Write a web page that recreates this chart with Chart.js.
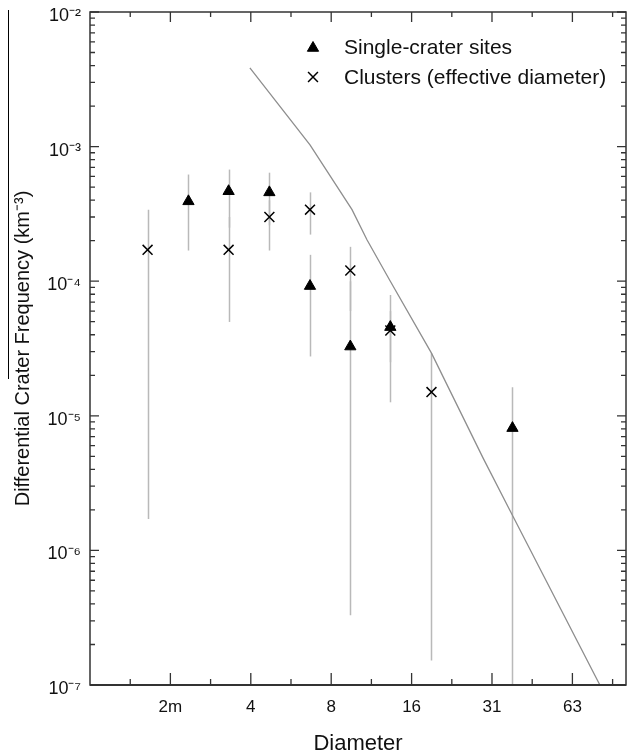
<!DOCTYPE html>
<html>
<head>
<meta charset="utf-8">
<script src="https://cdn.jsdelivr.net/npm/chart.js@4.4.1/dist/chart.umd.min.js"></script>
<style>
  html, body { margin: 0; padding: 0; background: #fff; }
  #wrap { width: 627px; height: 755px; }
</style>
</head>
<body>
<div id="wrap"><canvas id="myChart" width="627" height="755"></canvas></div>
<script>
// single-crater sites (triangles)
var singleDiam = [2.33, 3.29, 4.67, 6.62, 9.36, 13.2, 37.7];
var singleFreq = [3.92e-4, 4.66e-4, 4.57e-4, 9.2e-5, 3.27e-5, 4.56e-5, 8.1e-6];
var singleHigh = [6.2e-4, 6.75e-4, 6.4e-4, 1.57e-4, 1.0e-4, 7.9e-5, 1.63e-5];
var singleLow  = [1.69e-4, 2.5e-4, 2.6e-4, 2.76e-5, 3.3e-7, 2.5e-5, 5e-8];

// clusters, effective diameter (crosses)
var clusterDiam = [1.64, 3.29, 4.67, 6.62, 9.36, 13.2, 18.8];
var clusterFreq = [1.71e-4, 1.71e-4, 3.0e-4, 3.4e-4, 1.2e-4, 4.3e-5, 1.5e-5];
var clusterHigh = [3.4e-4, 3.0e-4, 4.0e-4, 4.57e-4, 1.8e-4, 6e-5, 2.92e-5];
var clusterLow  = [1.71e-6, 4.98e-5, 1.69e-4, 2.22e-4, 6e-5, 1.26e-5, 1.52e-7];

// grey production curve
var modelDiam = [3.95, 6.62, 9.5, 10.8, 13.2, 18.8, 29.3, 37.6, 79.9];
var modelFreq = [3.85e-3, 1.03e-3, 3.4e-4, 2.03e-4, 1.0e-4, 2.92e-5, 4.85e-6, 1.84e-6, 1.0e-7];

// axes
var xTicks = [1.995, 3.981, 7.943, 15.85, 31.62, 63.10];
var xTickLabels = ['2m', '4', '8', '16', '31', '63'];
var xMinorTicks = [1.413, 2.818, 5.623, 11.22, 22.39, 44.67, 89.13];
var yTicks = [1e-7, 1e-6, 1e-5, 1e-4, 1e-3, 1e-2];
var yTickLabels = ['10\u207B\u2077', '10\u207B\u2076', '10\u207B\u2075', '10\u207B\u2074', '10\u207B\u00B3', '10\u207B\u00B2'];
var yMinorMult = [2, 3, 4, 5, 6, 7, 8, 9];

var legendLabels = ['Single-crater sites', 'Clusters (effective diameter)'];

function pts(xs, ys) {
  return xs.map(function (x, i) { return {x: x, y: ys[i]}; });
}

var FONT = '"Liberation Sans", Arial, Helvetica, sans-serif';

var errorBars = {
  id: 'errorBars',
  beforeDatasetsDraw: function (chart) {
    var ctx = chart.ctx, a = chart.chartArea;
    var xs = chart.scales.x, ys = chart.scales.y;
    ctx.save();
    ctx.beginPath();
    ctx.rect(a.left, a.top, a.right - a.left, a.bottom - a.top);
    ctx.clip();
    ctx.strokeStyle = '#b9b9b9';
    ctx.lineWidth = 1.5;
    function bars(d, lo, hi) {
      for (var i = 0; i < d.length; i++) {
        var px = Math.round(xs.getPixelForValue(d[i])) + 0.5;
        ctx.beginPath();
        ctx.moveTo(px, ys.getPixelForValue(hi[i]));
        ctx.lineTo(px, ys.getPixelForValue(lo[i]));
        ctx.stroke();
      }
    }
    bars(singleDiam, singleLow, singleHigh);
    bars(clusterDiam, clusterLow, clusterHigh);
    ctx.restore();
  }
};

var frame = {
  id: 'frame',
  afterDraw: function (chart) {
    var ctx = chart.ctx, a = chart.chartArea;
    var xs = chart.scales.x, ys = chart.scales.y;
    ctx.save();
    ctx.strokeStyle = '#333';
    ctx.lineWidth = 1.5;
    ctx.strokeRect(a.left, a.top, a.right - a.left, a.bottom - a.top);
    ctx.lineWidth = 2.2;
    ctx.beginPath();
    ctx.moveTo(a.left, a.bottom); ctx.lineTo(a.right, a.bottom);
    ctx.stroke();

    ctx.lineWidth = 1.3;
    ctx.beginPath();
    // y ticks, both sides, pointing in
    yTicks.forEach(function (v) {
      var py = ys.getPixelForValue(v);
      ctx.moveTo(a.left, py); ctx.lineTo(a.left + 9, py);
      ctx.moveTo(a.right, py); ctx.lineTo(a.right - 9, py);
      if (v < 1e-2) {
        yMinorMult.forEach(function (m) {
          var q = ys.getPixelForValue(v * m);
          ctx.moveTo(a.left, q); ctx.lineTo(a.left + 5, q);
          ctx.moveTo(a.right, q); ctx.lineTo(a.right - 5, q);
        });
      }
    });
    // x ticks, top and bottom
    xTicks.forEach(function (v) {
      var px = xs.getPixelForValue(v);
      ctx.moveTo(px, a.bottom); ctx.lineTo(px, a.bottom - 12);
      ctx.moveTo(px, a.top); ctx.lineTo(px, a.top + 10);
    });
    xMinorTicks.forEach(function (v) {
      var px = xs.getPixelForValue(v);
      ctx.moveTo(px, a.bottom); ctx.lineTo(px, a.bottom - 6);
      ctx.moveTo(px, a.top); ctx.lineTo(px, a.top + 5);
    });
    ctx.stroke();

    // odd bar left of the axis title
    ctx.strokeStyle = '#000';
    ctx.lineWidth = 1;
    ctx.beginPath();
    ctx.moveTo(8.5, 10); ctx.lineTo(8.5, 379);
    ctx.stroke();

    // legend
    var H = Chart.helpers;
    ctx.fillStyle = '#000';
    ctx.strokeStyle = '#000';
    H.drawPoint(ctx, {pointStyle: 'triangle', radius: 6.5, rotation: 0, borderWidth: 1}, 313, 48);
    ctx.lineWidth = 1.5;
    H.drawPoint(ctx, {pointStyle: 'crossRot', radius: 7, rotation: 0, borderWidth: 1.5}, 313, 77);
    ctx.fillStyle = '#111';
    ctx.font = '21px ' + FONT;
    ctx.textBaseline = 'middle';
    ctx.textAlign = 'left';
    ctx.fillText(legendLabels[0], 344, 48);
    ctx.fillText(legendLabels[1], 344, 78);
    ctx.restore();
  }
};

var ctx = document.getElementById('myChart').getContext('2d');
var myChart = new Chart(ctx, {
  type: 'scatter',
  data: {
    datasets: [{
      label: 'model',
      type: 'line',
      data: pts(modelDiam, modelFreq),
      borderColor: '#8e8e8e',
      borderWidth: 1.3,
      pointRadius: 0,
      tension: 0,
      fill: false
    }, {
      label: legendLabels[0],
      data: pts(singleDiam, singleFreq),
      pointStyle: 'triangle',
      pointRadius: 6.5,
      backgroundColor: '#000',
      borderColor: '#000',
      borderWidth: 1
    }, {
      label: legendLabels[1],
      data: pts(clusterDiam, clusterFreq),
      pointStyle: 'crossRot',
      pointRadius: 7,
      backgroundColor: '#000',
      borderColor: '#000',
      borderWidth: 1.5
    }]
  },
  options: {
    responsive: false,
    animation: false,
    devicePixelRatio: 1,
    layout: { autoPadding: false, padding: { top: 12, right: 1, left: 0, bottom: 0 } },
    plugins: { legend: { display: false }, tooltip: { enabled: false } },
    scales: {
      x: {
        type: 'logarithmic',
        min: 1, max: 100,
        grid: { display: false, drawTicks: false },
        border: { display: false },
        afterBuildTicks: function (s) { s.ticks = xTicks.map(function (v) { return {value: v}; }); },
        afterFit: function (s) { s.height = 70; s.paddingLeft = 0; s.paddingRight = 0; },
        ticks: {
          autoSkip: false, maxRotation: 0, padding: 12,
          color: '#111', font: { family: FONT, size: 17 },
          callback: function (v, i) { return xTickLabels[i]; }
        },
        title: {
          display: true, text: 'Diameter', color: '#111',
          font: { family: FONT, size: 22, lineHeight: 1.0 },
          padding: { top: 0, bottom: 0 }
        }
      },
      y: {
        type: 'logarithmic',
        min: 1e-7, max: 1e-2,
        grid: { display: false, drawTicks: false },
        border: { display: false },
        afterBuildTicks: function (s) { s.ticks = yTicks.map(function (v) { return {value: v}; }); },
        afterFit: function (s) { s.width = 90; s.paddingTop = 0; s.paddingBottom = 0; },
        ticks: {
          autoSkip: false, padding: 9, labelOffset: 4,
          color: '#111', font: { family: FONT, size: 18 },
          callback: function (v, i) { return yTickLabels[i]; }
        },
        title: {
          display: true, text: 'Differential Crater Frequency (km\u207B\u00B3)', color: '#111',
          font: { family: FONT, size: 20, lineHeight: 1.2 },
          padding: { top: 11, bottom: 0 }
        }
      }
    }
  },
  plugins: [errorBars, frame]
});
</script>
</body>
</html>
